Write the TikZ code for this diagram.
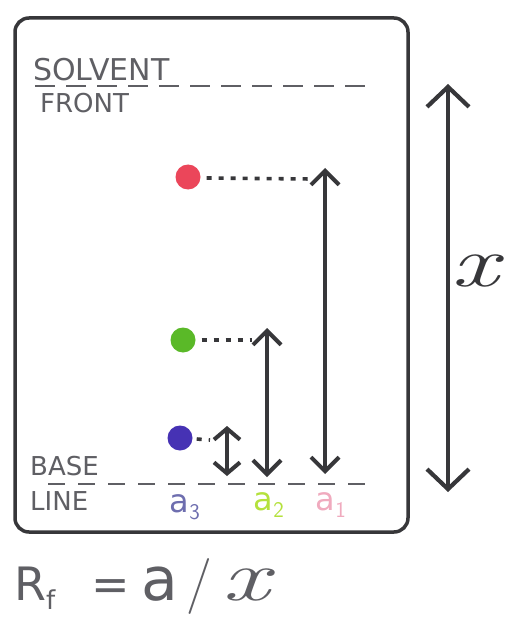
\documentclass[tikz,border=0pt]{standalone}
\usepackage{fontspec}
\setmainfont{DejaVu Sans}
\newfontfamily\xfont{Latin Modern Roman}
\usetikzlibrary{arrows.meta}
\definecolor{ink}{RGB}{55,55,58}
\definecolor{txt}{RGB}{95,95,100}
\definecolor{dotred}{RGB}{235,70,90}
\definecolor{dotgreen}{RGB}{90,185,40}
\definecolor{dotblue}{RGB}{70,50,180}
\definecolor{lblblue}{RGB}{110,110,175}
\definecolor{lblgreen}{RGB}{180,225,60}
\definecolor{lblpink}{RGB}{240,170,190}
\newcommand{\bigx}{{\xfont\itshape\fontsize{72}{72}\selectfont\scalebox{1.45}[1]{x}}}
\tikzset{
  frame/.style={draw=ink, line width=3.5pt, rounded corners=14pt},
  dashline/.style={draw=txt, line width=2.4pt, dash pattern=on 20pt off 11pt},
  spot/.style={circle, inner sep=0pt, minimum size=25pt},
  dotted link/.style={draw=ink, line width=3.6pt, dash pattern=on 5pt off 7pt},
  dist/.style={draw=ink, line width=4pt, {Straight Barb[length=14pt,width=28pt]}-{Straight Barb[length=14pt,width=28pt]}},
  bigdist/.style={draw=ink, line width=4.2pt, {Straight Barb[length=20pt,width=42pt]}-{Straight Barb[length=20pt,width=42pt]}},
  caption/.style={text=txt, anchor=west, inner sep=0pt},
  sub/.style={font=\fontsize{32}{32}\selectfont, inner sep=0pt}
}
\begin{document}
\begin{tikzpicture}[x=1pt,y=-1pt]
\useasboundingbox (0,0) rectangle (505,631);
\fill[white] (0,0) rectangle (505,631);
\draw[frame] (15,18) rectangle (408,532);
% solvent front
\node[caption, font=\fontsize{30}{30}\selectfont] (sf1) at (33,70) {SOLVENT};
\node[caption, font=\fontsize{26}{26}\selectfont] (sf2) at (40,103) {FRONT};
\draw[dashline] (35,86) -- (365,86);
% base line
\node[caption, font=\fontsize{26}{26}\selectfont] (bl1) at (30,466) {BASE};
\node[caption, font=\fontsize{26}{26}\selectfont] (bl2) at (30,501) {LINE};
\coordinate (b1) at (48,484);
\coordinate (b2) at (372,484);
\draw[dashline, dash pattern=on 17pt off 13pt] (b1) -- (b2);
% spots
\node[spot, fill=dotred] (red) at (188,177) {};
\node[spot, fill=dotgreen] (green) at (183,340) {};
\node[spot, fill=dotblue] (blue) at (180,438) {};
% arrow ends
\coordinate (a1t) at (325,168);
\coordinate (a1b) at (325,474);
\coordinate (a2t) at (267,328);
\coordinate (a2b) at (267,477);
\coordinate (a3t) at (227,426);
\coordinate (a3b) at (227,476);
\draw[dotted link] (red.east) ++(6,1) -- (312,179);
\draw[dotted link] (green.east) ++(6,0) -- (252,340);
\draw[dotted link] (blue.east) ++(4,1) -- (210,440);
\draw[dist] (a1b) -- (a1t);
\draw[dist] (a2b) -- (a2t);
\draw[dist, {Straight Barb[length=11pt,width=26pt]}-{Straight Barb[length=11pt,width=26pt]}] (a3b) -- (a3t);
% labels
\node[sub, text=lblblue] (l3) at (185,507) {a$_\mathsf{3}$};
\node[sub, text=lblgreen] (l2) at (269,505) {a$_\mathsf{2}$};
\node[sub, text=lblpink] (l1) at (331,505) {a$_\mathsf{1}$};
% big arrow
\coordinate (xt) at (448,84);
\coordinate (xb) at (448,492);
\draw[bigdist] (xb) -- (xt);
\node[text=ink, inner sep=0pt, anchor=base] (xl) at (475,286) {\bigx};
% formula
\node[font=\fontsize{46}{46}\selectfont, text=txt, anchor=base west, inner sep=0pt] (rf) at (14,600)
  {R\raisebox{-9pt}{\fontsize{26}{26}\selectfont f}\hspace{36pt}=\hspace{12pt}{\fontsize{60}{60}\selectfont a}\hspace{8pt}{\xfont\fontsize{56}{56}\selectfont /}\hspace{10pt}\bigx};
\end{tikzpicture}
\end{document}
